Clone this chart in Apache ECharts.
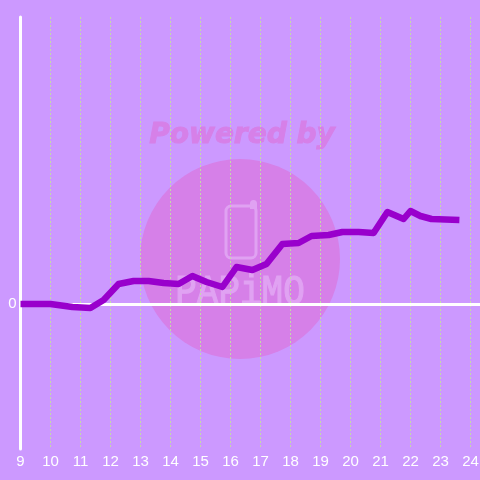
<!DOCTYPE html>
<html>
<head>
<meta charset="utf-8">
<style>
  html, body { margin: 0; padding: 0; background: #CC99FF; }
  #chart { width: 480px; height: 480px; }
</style>
<script src="https://cdn.jsdelivr.net/npm/echarts@6/dist/echarts.min.js"></script>
</head>
<body>
<div id="chart"></div>
<script>
// hours on the x axis, y has no readable scale apart from 0
var hours = [9, 10, 10.73, 11.33, 11.77, 12.27, 12.77, 13.27, 13.77, 14.27, 14.73, 15.2, 15.73, 16.2, 16.73, 17.2, 17.73, 18.27, 18.7, 19.27, 19.73, 20.27, 20.77, 21.23, 21.77, 22, 22.33, 22.7, 23.63];
var values = [0, 0, -3, -4, 4, 20, 23, 23, 21, 20, 28, 22, 17, 37, 34, 40, 60, 61, 68, 69, 72, 72, 71, 92, 85, 93, 88, 85, 84];
var xTicks = [9, 10, 11, 12, 13, 14, 15, 16, 17, 18, 19, 20, 21, 22, 23, 24];

var points = []
for (var i = 0; i < hours.length; i++) {
  points.push([hours[i], values[i]])
}

var wm = '#D680E8'
var logoLine = '#E0A2F2'

var myChart = echarts.init(document.getElementById('chart'))
myChart.setOption({
  animation: false,
  backgroundColor: '#CC99FF',
  // grid runs past the right edge so one hour is exactly 30px
  grid: { left: 20.5, width: 465, top: 17, bottom: 31, outerBoundsMode: 'none' },
  xAxis: {
    type: 'value',
    min: 9,
    max: 24.5,
    interval: 1,
    axisLine: { onZero: true, lineStyle: { color: '#fff', width: 3 } },
    axisTick: { show: false },
    axisLabel: {
      color: '#fff', fontSize: 15, fontFamily: 'Liberation Sans', margin: 5,
      customValues: xTicks
    },
    splitLine: { show: true, showMaxLine: false, lineStyle: { color: '#C6D9A8', type: [2, 2], width: 1 } }
  },
  yAxis: {
    type: 'value',
    min: -145,
    max: 287,
    axisLine: { show: true, onZero: false, lineStyle: { color: '#fff', width: 3 } },
    axisTick: { show: false },
    splitLine: { show: false },
    axisLabel: {
      color: '#fff', fontSize: 15, fontFamily: 'Liberation Sans', margin: 4,
      customValues: [0]
    }
  },
  graphic: [
    { type: 'circle', z: -1, shape: { cx: 240, cy: 259, r: 100 }, style: { fill: wm } },
    { type: 'text', z: -1, x: 242, y: 136, style: {
      text: 'Powered by', fill: wm, stroke: wm, lineWidth: 1, font: 'italic bold 28px "DejaVu Sans"', align: 'center', verticalAlign: 'middle'
    } },
    { type: 'rect', z: -1, shape: { x: 226, y: 206, width: 30, height: 52, r: 5 },
      style: { fill: 'none', stroke: logoLine, lineWidth: 3 } },
    { type: 'rect', z: -1, shape: { x: 251, y: 201, width: 5, height: 7, r: [2.5, 2.5, 0, 0] },
      style: { fill: logoLine, stroke: logoLine, lineWidth: 2 } },
    { type: 'text', z: -1, x: 240, y: 293, scaleY: 1.2, style: {
      text: 'PAPiMO', fill: logoLine, stroke: logoLine, lineWidth: 1, font: '36px "Liberation Mono"', align: 'center', verticalAlign: 'middle'
    } }
  ],
  series: [{
    type: 'line',
    data: points,
    showSymbol: false,
    smooth: false,
    lineStyle: { color: '#9900CC', width: 6.5, join: 'round' },
    z: 5
  }]
})
</script>
</body>
</html>
